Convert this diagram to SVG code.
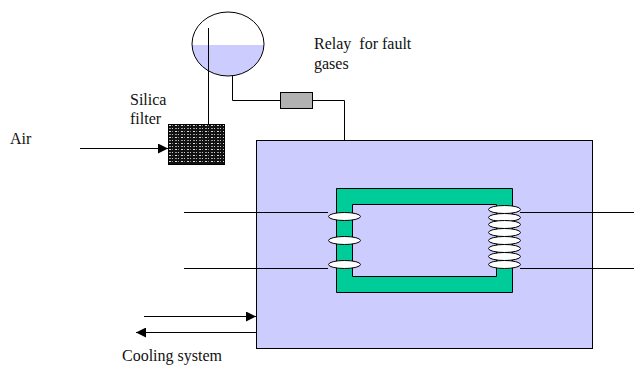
<svg xmlns="http://www.w3.org/2000/svg" width="634" height="368" viewBox="0 0 634 368">
<style>
.l{fill:none;stroke:#000;stroke-width:1}
.t{font-family:"Liberation Serif",serif;font-size:16px;fill:#111;white-space:pre}
.c{fill:#fff;stroke:#000;stroke-width:1}
</style>
<defs>
<marker id="a" markerUnits="userSpaceOnUse" markerWidth="10" markerHeight="10" refX="10" refY="5" orient="auto"><path d="M0 0L10 5L0 10Z" fill="#000"/></marker>
<pattern id="p" width="6" height="6" patternUnits="userSpaceOnUse" x="168" y="124"><rect width="6" height="6" fill="#111"/><rect x="1" y="1" width="2" height="1" fill="#ddd"/><rect x="4" y="1" width="1" height="1" fill="#888"/><rect x="1" y="4" width="2" height="1" fill="#999"/><rect x="4" y="4" width="1" height="1" fill="#ccc"/></pattern>
<clipPath id="cc"><ellipse cx="228" cy="44" rx="36" ry="32"/></clipPath>
</defs>
<rect width="634" height="368" fill="#fff"/>
<g id="tank"><rect x="256.500" y="140.500" width="336" height="208" fill="#ccccff" stroke="#000"/></g>
<g id="core"><path fill-rule="evenodd" d="M336.500 188.500H512.500V292.500H336.500ZM352.500 204.500V276.500H496.500V204.500Z" fill="#00cc99" stroke="#000"/></g>
<g id="conservator"><ellipse cx="228" cy="44" rx="36" ry="32" fill="#fff"/><rect x="190" y="45" width="76" height="36" fill="#ccccff" clip-path="url(#cc)"/><ellipse cx="228" cy="44" rx="36" ry="32" class="l"/></g>
<g id="relay"><rect x="280.500" y="92.500" width="32" height="16" fill="#b2b2b2" stroke="#000"/></g>
<g id="filter"><rect x="168.500" y="124.500" width="56" height="40" fill="url(#p)" stroke="#000"/></g>
<g id="connectors">
<path class="l" d="M208.500 28V124"/>
<path class="l" d="M232.500 76V100.500H280M313 100.500H344.500V140"/>
<path class="l" d="M80 148.500H168" marker-end="url(#a)"/>
<path class="l" d="M144 316.500H256" marker-end="url(#a)"/>
<path class="l" d="M256 332.500H136" marker-end="url(#a)"/>
<path class="l" d="M184 212.500H328M184 268.500H328M520 212.500H634M520 268.500H634"/>
</g>
<g id="primary-coil">
<ellipse class="c" cx="344.500" cy="216.500" rx="16" ry="4"/>
<ellipse class="c" cx="344.500" cy="240.500" rx="16" ry="4"/>
<ellipse class="c" cx="344.500" cy="264.500" rx="16" ry="4"/>
</g>
<g id="secondary-coil">
<ellipse class="c" cx="504.500" cy="209.500" rx="16" ry="4"/>
<ellipse class="c" cx="504.500" cy="217.500" rx="16" ry="4"/>
<ellipse class="c" cx="504.500" cy="224.500" rx="16" ry="4"/>
<ellipse class="c" cx="504.500" cy="232.500" rx="16" ry="4"/>
<ellipse class="c" cx="504.500" cy="240.500" rx="16" ry="4"/>
<ellipse class="c" cx="504.500" cy="248.500" rx="16" ry="4"/>
<ellipse class="c" cx="504.500" cy="256.500" rx="16" ry="4"/>
<ellipse class="c" cx="504.500" cy="264.500" rx="16" ry="4"/>
</g>
<g id="labels">
<text class="t" x="314" y="49" xml:space="preserve">Relay  for fault</text>
<text class="t" x="314" y="69">gases</text>
<text class="t" x="130" y="105">Silica</text>
<text class="t" x="130" y="124">filter</text>
<text class="t" x="10" y="144">Air</text>
<text class="t" x="122" y="361">Cooling system</text>
</g>
</svg>
